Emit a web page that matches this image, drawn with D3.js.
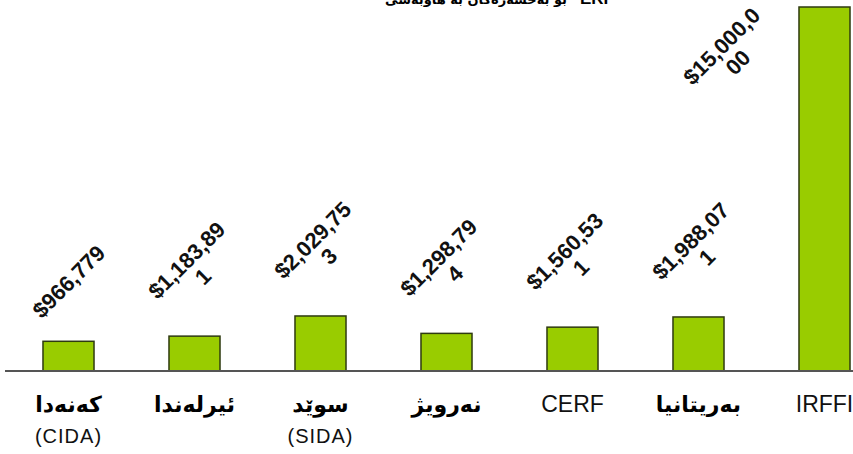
<!DOCTYPE html>
<html>
<head>
<meta charset="utf-8">
<script src="https://cdn.jsdelivr.net/npm/d3@7"></script>
<style>
  body { margin: 0; background: #fff; }
  svg { display: block; }
  .val { font-family: "Liberation Sans", Arial, sans-serif; font-weight: bold; font-size: 22px; fill: #111; }
  .cat { font-family: "DejaVu Sans", sans-serif; font-weight: bold; font-size: 22px; fill: #000; }
  .latin { font-family: "Liberation Sans", Arial, sans-serif; font-weight: normal; font-size: 23px; fill: #111; }
  .sub { font-family: "Liberation Sans", Arial, sans-serif; font-size: 20px; fill: #111; letter-spacing: 1px; }
  .title { font-family: "DejaVu Sans", sans-serif; font-weight: bold; font-size: 13px; fill: #000; }
</style>
</head>
<body>
<div id="vis"></div>
<script>
// chart data
const categories = ['کەنەدا', 'ئیرلەندا', 'سوێد', 'نەرویژ', 'CERF', 'بەریتانیا', 'IRFFI'];
const subLabels  = ['(CIDA)', '', '(SIDA)', '', '', '', ''];
const amounts    = [966779, 1183891, 2029753, 1298794, 1560531, 1988071, 15000000];
const titleWords = 'بۆ بەخشەرەکان بە هاوبەشی';
const titleLatin = 'ERF';

const width = 853, height = 454;
const baseY = 371;

const svg = d3.select('#vis')
    .append('svg')
    .attr('width', width)
    .attr('height', height);

// title sits mostly above the top edge (cut off like the picture)
svg.append('text')
    .attr('class', 'title')
    .attr('x', 567)
    .attr('y', 4)
    .attr('text-anchor', 'end')
    .text(titleWords);
svg.append('text')
    .attr('class', 'title')
    .attr('x', 580)
    .attr('y', 4)
    .style('font-family', '"Liberation Sans", Arial, sans-serif')
    .style('font-size', '17px')
    .text(titleLatin);

const xScale = d3.scaleBand()
    .domain(categories)
    .range([5.5, 5.5 + 126 * categories.length])
    .paddingInner(0.595)
    .paddingOuter(0.2975);

// bottom of the value range sits a bit below zero, as in the original
const yScale = d3.scaleLinear()
    .domain([-280000, 15000000])
    .range([baseY, 7]);

const data = categories.map((c, i) => ({category: c, sub: subLabels[i], value: amounts[i]}));

// bars
svg.selectAll('rect.bar')
    .data(data)
    .enter()
    .append('rect')
    .attr('class', 'bar')
    .attr('x', d => xScale(d.category))
    .attr('y', d => yScale(d.value))
    .attr('width', xScale.bandwidth())
    .attr('height', d => baseY - yScale(d.value))
    .attr('fill', '#99cc00')
    .attr('stroke', '#2e3a10')
    .attr('stroke-width', 1.5);

// baseline
svg.append('line')
    .attr('x1', 5).attr('x2', width)
    .attr('y1', baseY).attr('y2', baseY)
    .attr('stroke', '#555')
    .attr('stroke-width', 2);

// value labels, rotated and wrapped at 9 characters
const fmt = d3.format('$,');
const splitLabel = s => s.length > 9 ? [s.slice(0, 9), s.slice(9)] : [s];
const lh = 23;

const labels = svg.selectAll('g.val')
    .data(data)
    .enter()
    .append('g')
    .attr('class', 'val')
    .attr('transform', d => {
        const n = splitLabel(fmt(d.value)).length;
        const cx = xScale(d.category) + xScale.bandwidth() / 2;
        let ly = yScale(d.value) - 60 - 8 * (n - 1);
        let lx = cx;
        if (ly < 40) { lx = cx - 95; ly = yScale(d.value) + 47; } // no room above: put it to the left
        return `translate(${lx},${ly}) rotate(-45)`;
    });

labels.each(function(d) {
    const lines = splitLabel(fmt(d.value));
    const t = d3.select(this).append('text')
        .attr('text-anchor', 'middle');
    const y0 = -(lines.length - 1) * lh / 2 + 8;
    lines.forEach((ln, i) => {
        t.append('tspan')
            .attr('x', 0)
            .attr('y', y0 + i * lh)
            .text(ln);
    });
});

// category labels
svg.selectAll('text.catlab')
    .data(data)
    .enter()
    .append('text')
    .attr('class', d => /^[A-Z]+$/.test(d.category) ? 'catlab latin' : 'catlab cat')
    .attr('x', d => xScale(d.category) + xScale.bandwidth() / 2)
    .attr('y', 412)
    .attr('text-anchor', 'middle')
    .text(d => d.category);

svg.selectAll('text.sub')
    .data(data.filter(d => d.sub))
    .enter()
    .append('text')
    .attr('class', 'sub')
    .attr('x', d => xScale(d.category) + xScale.bandwidth() / 2)
    .attr('y', 443)
    .attr('text-anchor', 'middle')
    .text(d => d.sub);
</script>
</body>
</html>
